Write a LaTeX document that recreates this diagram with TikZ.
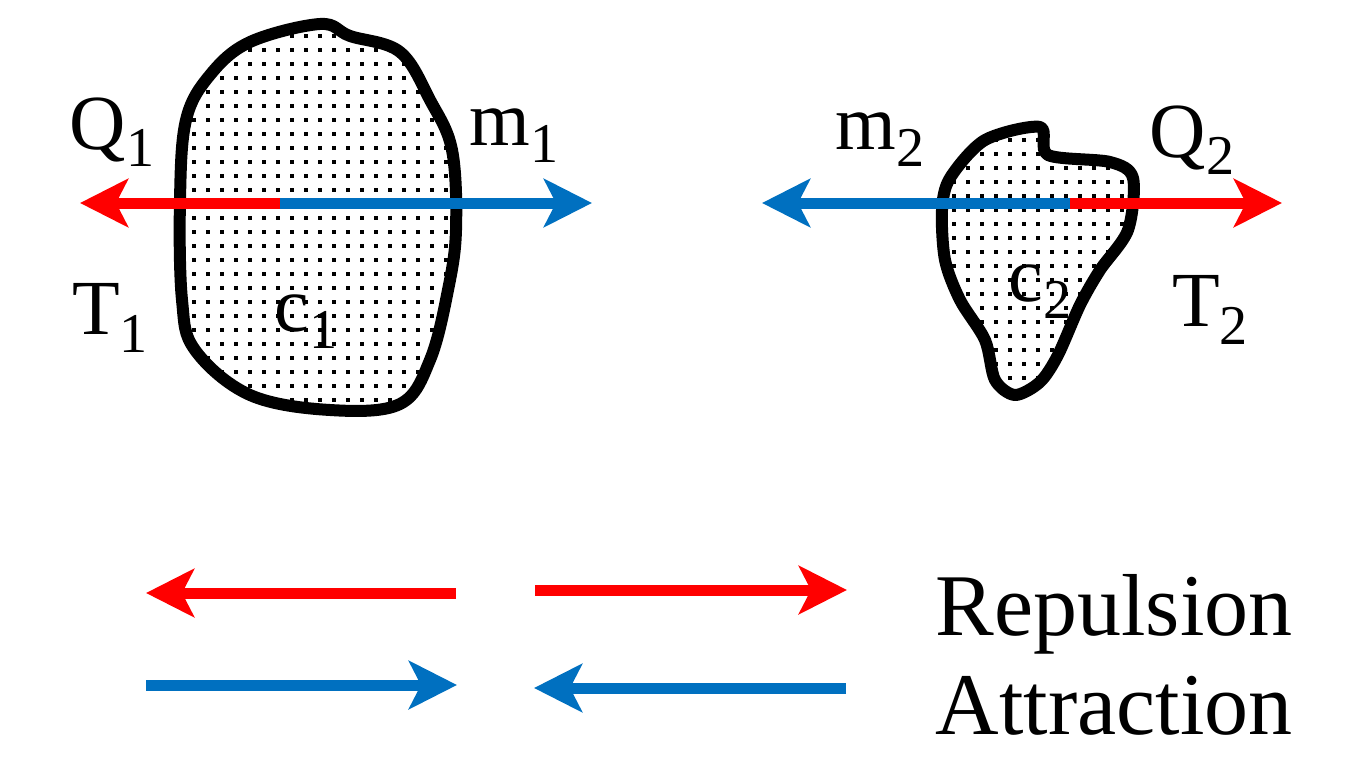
\documentclass[tikz,border=0pt]{standalone}
\usepackage{fontspec}
\setmainfont{Liberation Serif}
\usetikzlibrary{arrows.meta}
\definecolor{rd}{HTML}{FF0000}
\definecolor{bl}{HTML}{0070C0}
\newcommand{\lsub}[1]{\raisebox{-0.22em}{\scalebox{0.72}{#1}}}
\tikzset{
  arr/.style={line width=11pt,-{Stealth[length=48pt,width=48pt,inset=12pt]}},
  lbl/.style={font=\fontsize{78}{80}\selectfont,inner sep=0pt},
  blob/.style={line width=12pt,line join=round}
}
\begin{document}
\begin{tikzpicture}[x=1pt,y=-1pt]
\useasboundingbox (0,0) rectangle (1360,768);
\def\blobA{plot[smooth cycle,tension=0.6] coordinates{(210,75)(250,42)(320,24)(350,36)(400,52)(430,100)(452,150)(456,230)(448,290)(430,360)(400,404)(330,410)(250,395)(195,350)(182,300)(180,200)(186,120)}}
\def\blobB{plot[smooth cycle,tension=0.5] coordinates{(950,178)(985,140)(1040,127)(1048,155)(1110,162)(1133,178)(1128,230)(1100,270)(1080,305)(1058,355)(1040,382)(1015,395)(995,380)(985,340)(960,300)(945,260)(942,210)}}
\begin{scope}
\clip \blobA;
\foreach \i in {0,...,20} \foreach \j in {0,...,28}
  \fill (178+\i*14,20+\j*14) rectangle ++(4,4);
\end{scope}
\begin{scope}
\clip \blobB;
\foreach \i in {0,...,14} \foreach \j in {0,...,20}
  \fill (938+\i*14,124+\j*14) rectangle ++(4,4);
\end{scope}
\draw[blob] \blobA;
\draw[blob] \blobB;
\coordinate (o1) at (280,203);
\coordinate (l1) at (80,203);
\coordinate (r1) at (592,203);
\coordinate (o2) at (1070,203);
\coordinate (l2) at (762,203);
\coordinate (r2) at (1282,203);
\draw[arr,rd] (o1) -- (l1);
\draw[arr,bl] (o1) -- (r1);
\draw[arr,bl] (o2) -- (l2);
\draw[arr,rd] (o2) -- (r2);
\coordinate (a1) at (456,593); \coordinate (a2) at (146,593);
\coordinate (b1) at (535,590); \coordinate (b2) at (847,590);
\coordinate (c1) at (146,685); \coordinate (c2) at (457,685);
\coordinate (d1) at (846,688); \coordinate (d2) at (534,688);
\draw[arr,rd] (a1) -- (a2);
\draw[arr,rd] (b1) -- (b2);
\draw[arr,bl] (c1) -- (c2);
\draw[arr,bl] (d1) -- (d2);
\node[lbl] (q1) at (112,132) {Q\lsub{1}};
\node[lbl] (m1) at (514,136) {m\lsub{1}};
\node[lbl] (t1) at (110,318) {T\lsub{1}};
\node[lbl] (cc1) at (306,322) {c\lsub{1}};
\node[lbl] (m2) at (880,140) {m\lsub{2}};
\node[lbl] (q2) at (1192,140) {Q\lsub{2}};
\node[lbl] (cc2) at (1040,292) {c\lsub{2}};
\node[lbl] (t2) at (1210,310) {T\lsub{2}};
\node[lbl,font=\fontsize{88}{90}\selectfont] (rep) at (1114,614) {Repulsion};
\node[lbl,font=\fontsize{88}{90}\selectfont] (att) at (1114,706) {Attraction};
\end{tikzpicture}
\end{document}
